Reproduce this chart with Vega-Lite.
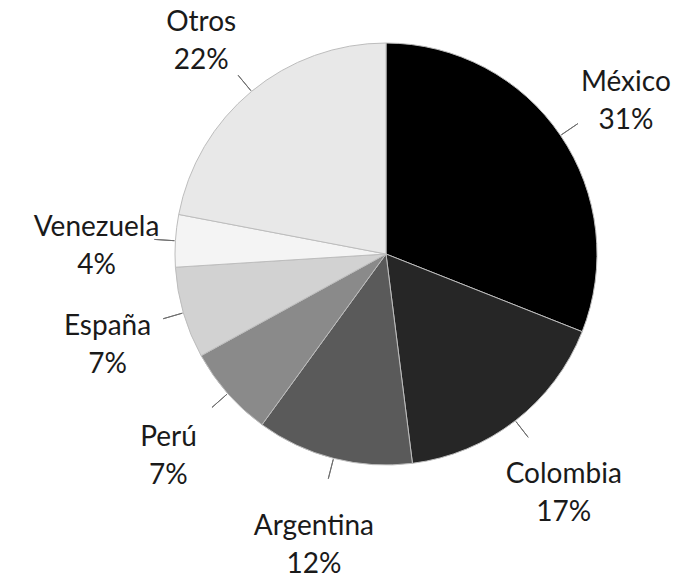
{
  "$schema": "https://vega.github.io/schema/vega-lite/v6.json",
  "autosize": {"type": "none"},
  "width": 584,
  "height": 508,
  "padding": {"left": 94, "right": 0, "top": 0, "bottom": 65},
  "background": "#ffffff",
  "view": {"stroke": null},
  "data": {
    "values": [
      {"pais": "México", "pct": 31, "orden": 1},
      {"pais": "Colombia", "pct": 17, "orden": 2},
      {"pais": "Argentina", "pct": 12, "orden": 3},
      {"pais": "Perú", "pct": 7, "orden": 4},
      {"pais": "España", "pct": 7, "orden": 5},
      {"pais": "Venezuela", "pct": 4, "orden": 6},
      {"pais": "Otros", "pct": 22, "orden": 7}
    ]
  },
  "transform": [
    {"calculate": "[datum.pais, datum.pct + '%']", "as": "label"}
  ],
  "encoding": {
    "theta": {"field": "pct", "type": "quantitative", "stack": true},
    "order": {"field": "orden", "type": "quantitative"}
  },
  "layer": [
    {
      "mark": {"type": "arc", "radius": 211, "stroke": "#bdbdbd", "strokeWidth": 1},
      "encoding": {
        "color": {
          "field": "pais",
          "type": "nominal",
          "scale": {
            "domain": ["México", "Colombia", "Argentina", "Perú", "España", "Venezuela", "Otros"],
            "range": ["#000000", "#262626", "#5a5a5a", "#8a8a8a", "#d2d2d2", "#f4f4f4", "#e8e8e8"]
          },
          "legend": null
        }
      }
    },
    {
      "mark": {"type": "arc", "radius": 212, "radius2": 232, "padAngle": 1.8, "fill": null, "stroke": "#6e6e6e", "strokeWidth": 1}
    },
    {
      "mark": {"type": "text", "radius": 290, "dy": -8, "font": "Lato", "fontSize": 28, "color": "#1a1a1a", "lineHeight": 38, "align": "center", "baseline": "middle"},
      "encoding": {
        "text": {"field": "label"}
      }
    }
  ]
}
